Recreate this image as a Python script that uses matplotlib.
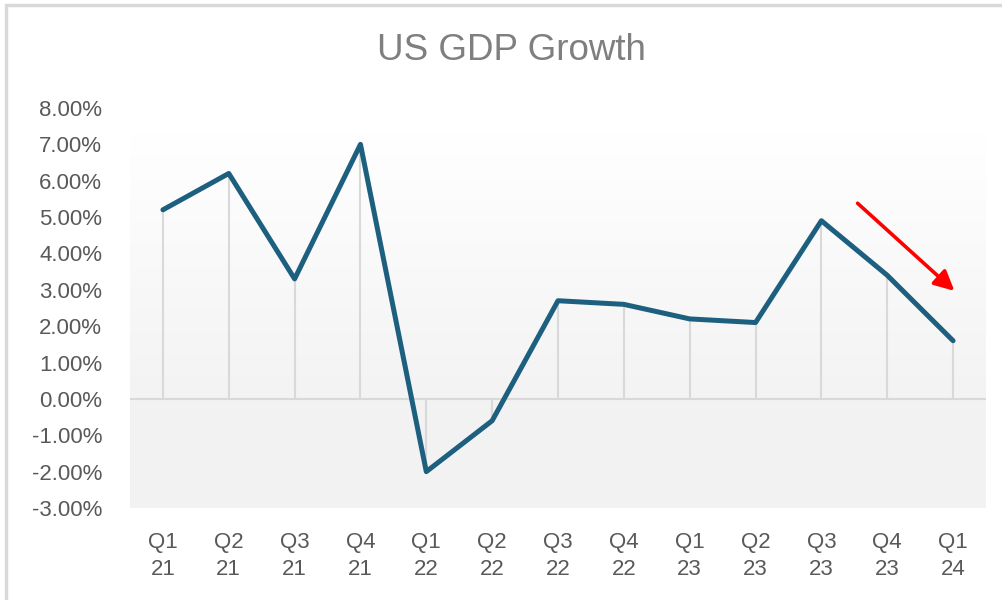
import matplotlib.pyplot as plt
import numpy as np
from matplotlib.colors import LinearSegmentedColormap
from matplotlib.patches import Rectangle
from matplotlib.ticker import FuncFormatter

quarters = ['Q1\n21', 'Q2\n21', 'Q3\n21', 'Q4\n21', 'Q1\n22', 'Q2\n22', 'Q3\n22',
            'Q4\n22', 'Q1\n23', 'Q2\n23', 'Q3\n23', 'Q4\n23', 'Q1\n24']
growth = [5.2, 6.2, 3.3, 7.0, -2.0, -0.6, 2.7, 2.6, 2.2, 2.1, 4.9, 3.4, 1.6]

plt.rcParams['font.family'] = ['Liberation Sans', 'DejaVu Sans']

fig = plt.figure(figsize=(10.03, 6), dpi=100)
ax = fig.add_axes([130 / 1003, 92 / 600, 856 / 1003, 400 / 600])

x = np.arange(len(growth))

# plot area background: gradient above zero, flat grey below
grad = LinearSegmentedColormap.from_list('bg', ['#f3f3f3', '#ffffff'])
ax.imshow(np.linspace(0, 1, 256).reshape(-1, 1), cmap=grad, aspect='auto',
          origin='lower', extent=[-0.5, len(x) - 0.5, 0, 7.3], zorder=0)
ax.add_patch(Rectangle((-0.5, -3), len(x), 3, color='#f2f2f2', lw=0, zorder=0))

ax.vlines(x, 0, growth, color='#d9d9d9', lw=1.5, zorder=1)
ax.axhline(0, color='#d9d9d9', lw=1.5, zorder=1)
ax.plot(x, growth, color='#1d5f7e', lw=3.6, solid_joinstyle='round',
        solid_capstyle='round', zorder=3)

ax.annotate('', xy=(12.02, 2.97), xytext=(10.55, 5.38),
            arrowprops=dict(arrowstyle='-|>', color='red', lw=2.6,
                            mutation_scale=30, shrinkA=0, shrinkB=0))

ax.set_xlim(-0.5, len(x) - 0.5)
ax.set_ylim(-3, 8)
ax.set_yticks(np.arange(-3, 9, 1))
ax.yaxis.set_major_formatter(FuncFormatter(lambda v, p: f'{v:.2f}%'))
ax.set_xticks(x)
ax.set_xticklabels(quarters, linespacing=1.4)
ax.tick_params(axis='both', length=0, labelsize=16, colors='#595959')
ax.tick_params(axis='x', pad=17)
ax.tick_params(axis='y', pad=20)
for s in ax.spines.values():
    s.set_visible(False)

fig.text(511 / 1003, 1 - 50 / 600, 'US GDP Growth', ha='center', va='center',
         fontsize=26.5, color='#7f7f7f')

# chart border (top and left visible)
fig.patches.append(Rectangle((6 / 1003, -0.1), 1.2, 1 - 5 / 600 + 0.1,
                             transform=fig.transFigure, fill=False,
                             edgecolor='#d9d9d9', lw=2.5))

fig.savefig('out.png', dpi=100)
